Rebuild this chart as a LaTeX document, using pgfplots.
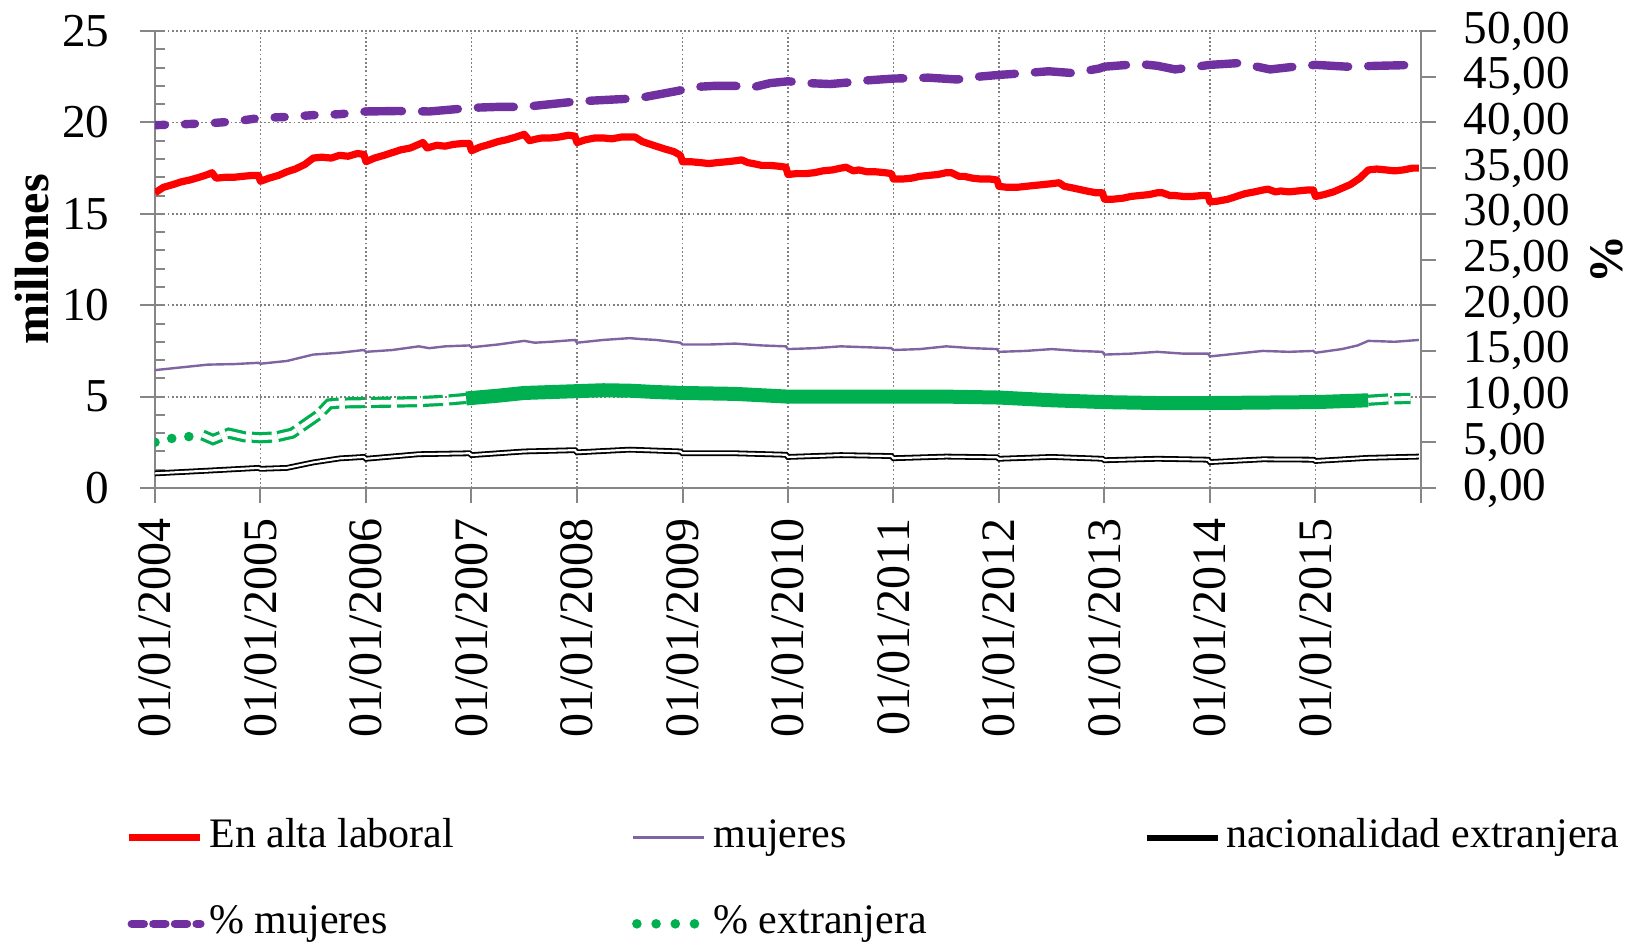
\documentclass[border=0pt]{standalone}
\usepackage{pgfplots}
\pgfplotsset{compat=1.18}
\usepackage{fontspec}
\setmainfont{Liberation Serif}
\definecolor{cRed}{RGB}{255,0,0}
\definecolor{cPurD}{RGB}{112,48,160}
\definecolor{cPurL}{RGB}{128,100,162}
\definecolor{cGreen}{RGB}{0,176,80}
\definecolor{axgray}{RGB}{134,134,134}
\definecolor{grgray}{RGB}{128,128,128}

\pgfplotstableread{
x y
2004.00 16.15
2004.08 16.45
2004.17 16.6
2004.25 16.75
2004.33 16.85
2004.42 17.0
2004.50 17.15
2004.54 17.25
2004.58 16.95
2004.67 17.0
2004.75 17.0
2004.83 17.05
2004.92 17.1
2004.98 17.1
2005.00 16.78
2005.08 16.95
2005.17 17.1
2005.25 17.3
2005.33 17.45
2005.42 17.7
2005.50 18.05
2005.58 18.1
2005.67 18.05
2005.75 18.2
2005.83 18.15
2005.92 18.3
2005.98 18.25
2006.00 17.85
2006.08 18.05
2006.17 18.2
2006.25 18.35
2006.33 18.5
2006.42 18.6
2006.50 18.8
2006.54 18.9
2006.58 18.6
2006.67 18.75
2006.75 18.7
2006.83 18.8
2006.92 18.85
2006.98 18.85
2007.00 18.45
2007.08 18.65
2007.17 18.8
2007.25 18.95
2007.33 19.05
2007.42 19.2
2007.50 19.35
2007.55 19.0
2007.62 19.1
2007.67 19.15
2007.75 19.15
2007.83 19.2
2007.92 19.3
2007.98 19.25
2008.00 18.9
2008.08 19.05
2008.17 19.15
2008.25 19.15
2008.33 19.1
2008.42 19.2
2008.50 19.2
2008.55 19.2
2008.62 18.95
2008.67 18.85
2008.75 18.7
2008.83 18.55
2008.92 18.4
2008.98 18.2
2009.00 17.85
2009.08 17.85
2009.17 17.8
2009.25 17.75
2009.33 17.8
2009.42 17.85
2009.50 17.9
2009.56 17.95
2009.62 17.8
2009.67 17.75
2009.75 17.65
2009.83 17.65
2009.92 17.6
2009.98 17.55
2010.00 17.15
2010.08 17.2
2010.17 17.2
2010.25 17.25
2010.33 17.35
2010.42 17.4
2010.50 17.5
2010.55 17.55
2010.62 17.35
2010.67 17.4
2010.75 17.3
2010.83 17.3
2010.92 17.25
2010.98 17.2
2011.00 16.9
2011.08 16.9
2011.17 16.95
2011.25 17.05
2011.33 17.1
2011.42 17.15
2011.50 17.25
2011.55 17.25
2011.62 17.05
2011.67 17.05
2011.75 16.95
2011.83 16.9
2011.92 16.9
2011.98 16.85
2012.00 16.5
2012.08 16.45
2012.17 16.45
2012.25 16.5
2012.33 16.55
2012.42 16.6
2012.50 16.65
2012.57 16.7
2012.62 16.5
2012.67 16.45
2012.75 16.35
2012.83 16.25
2012.92 16.15
2012.98 16.15
2013.00 15.8
2013.08 15.8
2013.17 15.85
2013.25 15.95
2013.33 16.0
2013.42 16.05
2013.50 16.15
2013.55 16.15
2013.62 16.0
2013.67 16.0
2013.75 15.95
2013.83 15.95
2013.92 16.0
2013.98 16.0
2014.00 15.65
2014.08 15.7
2014.17 15.8
2014.25 15.95
2014.33 16.1
2014.42 16.2
2014.50 16.3
2014.55 16.35
2014.62 16.2
2014.67 16.25
2014.75 16.2
2014.83 16.25
2014.92 16.3
2014.98 16.3
2015.00 15.95
2015.08 16.05
2015.17 16.2
2015.25 16.4
2015.33 16.6
2015.42 16.95
2015.50 17.4
2015.58 17.45
2015.67 17.4
2015.75 17.35
2015.83 17.4
2015.92 17.5
2015.98 17.5
}\alta

\pgfplotstableread{
x y
2004.00 6.45
2004.25 6.6
2004.50 6.75
2004.75 6.78
2004.98 6.85
2005.00 6.8
2005.25 6.95
2005.50 7.3
2005.75 7.4
2005.98 7.55
2006.00 7.45
2006.25 7.55
2006.50 7.75
2006.60 7.65
2006.75 7.75
2006.98 7.8
2007.00 7.7
2007.25 7.85
2007.50 8.05
2007.60 7.95
2007.75 8.0
2007.98 8.1
2008.00 7.95
2008.25 8.1
2008.50 8.2
2008.60 8.15
2008.75 8.1
2008.98 7.95
2009.00 7.85
2009.25 7.85
2009.50 7.9
2009.75 7.8
2009.98 7.75
2010.00 7.6
2010.25 7.65
2010.50 7.75
2010.75 7.7
2010.98 7.65
2011.00 7.55
2011.25 7.6
2011.50 7.75
2011.75 7.65
2011.98 7.6
2012.00 7.45
2012.25 7.5
2012.50 7.6
2012.75 7.5
2012.98 7.45
2013.00 7.3
2013.25 7.35
2013.50 7.45
2013.75 7.35
2013.98 7.35
2014.00 7.2
2014.25 7.35
2014.50 7.5
2014.75 7.45
2014.98 7.5
2015.00 7.4
2015.25 7.6
2015.40 7.8
2015.50 8.05
2015.75 8.0
2015.98 8.1
}\mujeres

\pgfplotstableread{
x y
2004.00 0.8
2004.50 0.95
2004.98 1.1
2005.00 1.05
2005.25 1.1
2005.50 1.4
2005.75 1.62
2005.98 1.7
2006.00 1.6
2006.50 1.85
2006.98 1.9
2007.00 1.8
2007.50 2.0
2007.98 2.07
2008.00 1.95
2008.50 2.1
2008.98 2.0
2009.00 1.9
2009.50 1.9
2009.98 1.82
2010.00 1.7
2010.50 1.8
2010.98 1.75
2011.00 1.63
2011.50 1.72
2011.98 1.68
2012.00 1.6
2012.50 1.7
2012.98 1.6
2013.00 1.52
2013.50 1.6
2013.98 1.55
2014.00 1.42
2014.50 1.57
2014.98 1.55
2015.00 1.48
2015.50 1.65
2015.98 1.72
}\extr

\pgfplotstableread{
x y
2004.00 39.7
2004.25 39.8
2004.50 39.9
2004.75 40.1
2005.00 40.5
2005.25 40.6
2005.50 40.8
2005.75 40.9
2006.00 41.2
}\pmujA

\pgfplotstableread{
x y
2006.00 41.2
2006.30 41.25
2006.60 41.2
2006.80 41.4
2007.00 41.6
2007.25 41.7
2007.50 41.7
2007.75 42.0
2008.00 42.3
2008.25 42.45
2008.50 42.6
2008.65 42.8
2008.93 43.4
2009.15 43.9
2009.30 44.0
2009.50 44.0
2009.65 43.8
2009.83 44.3
2010.00 44.5
2010.20 44.3
2010.40 44.2
2010.60 44.4
2010.75 44.6
2011.00 44.8
2011.33 44.9
2011.60 44.7
2011.80 45.0
2012.00 45.2
2012.25 45.4
2012.47 45.6
2012.70 45.4
2012.95 45.9
2013.00 46.1
2013.33 46.4
2013.50 46.2
2013.67 45.8
2014.00 46.3
2014.28 46.5
2014.57 45.8
2014.80 46.1
2015.00 46.3
2015.30 46.1
2015.60 46.2
2015.98 46.3
}\pmuj

\pgfplotstableread{
x y
2004.00 5.0
2004.14 5.4
2004.30 5.6
2004.45 5.8
}\pextA
\pgfplotstableread{
x y
2004.45 5.8
2004.55 5.3
2004.70 6.0
2004.85 5.6
2005.00 5.5
2005.15 5.6
2005.30 6.0
2005.45 7.2
2005.55 8.0
2005.65 9.2
2005.75 9.3
2006.00 9.35
2006.25 9.4
2006.50 9.45
2006.75 9.6
2006.95 9.8
}\pextB
\pgfplotstableread{
x y
2006.95 9.8
2007.25 10.1
2007.50 10.4
2007.75 10.5
2008.00 10.6
2008.25 10.7
2008.50 10.65
2008.75 10.5
2009.00 10.4
2009.50 10.3
2010.00 10.0
2010.50 10.0
2011.00 10.0
2011.50 10.0
2012.00 9.9
2012.50 9.6
2013.00 9.4
2013.50 9.3
2014.00 9.3
2014.50 9.35
2015.00 9.4
2015.50 9.6
}\pextC
\pgfplotstableread{
x y
2015.50 9.6
2015.70 9.75
2015.90 9.8
}\pextD

\pgfplotsset{
  every axis/.append style={
    scale only axis, width=316.5pt, height=114.25pt,
    xmin=2004, xmax=2016,
    axis line style={draw=axgray, line width=0.5pt},
    tick style={draw=axgray, line width=0.5pt},
    tick align=outside, major tick length=3.75pt,
    /pgf/number format/assume math mode=true,
    tick label style={font=\fontsize{11.8}{14}\selectfont, inner sep=0pt},
  },
}

\begin{document}
\begin{tikzpicture}
\begin{axis}[
  ymin=0, ymax=25,
  axis x line*=bottom, axis y line*=left,
  xtick={2004,2005,...,2016},
  xticklabels={01/01/2004,01/01/2005,01/01/2006,01/01/2007,01/01/2008,01/01/2009,01/01/2010,01/01/2011,01/01/2012,01/01/2013,01/01/2014,01/01/2015,{}},
  x tick label style={rotate=90, anchor=east, font=\fontsize{12}{14}\selectfont},
  xticklabel shift=3.75pt,
  ytick={0,5,...,25},
  yticklabel shift=7.5pt,
  extra y ticks={0,1,...,25},
  extra y tick labels={},
  extra tick style={grid=none, tick align=inside, major tick length=2.5pt},
  xmajorgrids, ymajorgrids,
  major grid style={draw=grgray, line width=0.45pt, dash pattern=on 0.45pt off 0.6pt},
  ylabel={\textbf{millones}},
  ylabel style={at={(axis description cs:0,0.5)}, anchor=center, yshift=30.75pt, font=\fontsize{12}{14}\selectfont},
]
\addplot[cRed, line width=1.8pt, line join=round] table[x=x,y=y] {\alta};
\addplot[cPurL, line width=0.6pt] table[x=x,y=y] {\mujeres};
\addplot[black, line width=0.45pt, double=white, double distance=0.55pt] table[x=x,y=y] {\extr};
\end{axis}

\begin{axis}[
  ymin=0, ymax=50,
  axis y line*=right, axis x line=none,
  ytick={0,5,...,50},
  yticklabel shift=6.75pt,
  yticklabel style={/pgf/number format/.cd, fixed, fixed zerofill, precision=2, use comma, assume math mode=true},
  ylabel={\textbf{\%}},
  ylabel style={at={(axis description cs:1,0.5)}, anchor=center, yshift=-46.5pt, font=\fontsize{12}{14}\selectfont},
  legend columns=3,
  legend style={at={(axis description cs:0,0)}, anchor=north west, xshift=-7.5pt, yshift=-81.75pt,
    draw=none, fill=none, inner sep=0pt, row sep=10.5pt,
    font=\fontsize{10.5}{12.6}\selectfont,
    nodes={inner sep=0pt, text height=8pt, text depth=3pt},
    /tikz/every odd column/.append style={column sep=1.2pt},
  },
  legend cell align=left,
  legend image code/.code={\draw[#1] (0pt,0pt) -- (17.75pt,0pt);},
]
\addlegendimage{cRed, line width=1.8pt}
\addlegendentry{\makebox[105.5pt][l]{En alta laboral}}
\addlegendimage{cPurL, line width=0.75pt}
\addlegendentry{\makebox[107.75pt][l]{mujeres}}
\addlegendimage{black, line width=1.5pt}
\addlegendentry{nacionalidad extranjera}
\addplot[cPurD, line width=2.1pt, line cap=round, dash pattern=on 9pt off 5pt,
  legend image code/.code={\draw[cPurD, line width=2.1pt, line cap=round, dash pattern=on 3pt off 2.4pt] (0.6pt,0pt) -- (17.75pt,0pt);}]
  table[x=x,y=y] {\pmuj};
\addlegendentry{\% mujeres}
\addplot[cGreen, line width=2.4pt, line cap=round, dash pattern=on 0pt off 4.3pt,
  legend image code/.code={\draw[cGreen, line width=2.4pt, line cap=round, dash pattern=on 0pt off 4.8pt] (1pt,0pt) -- (17.75pt,0pt);}]
  table[x=x,y=y] {\pextA};
\addlegendentry{\% extranjera}
\addplot[forget plot, cPurD, line width=2.1pt, line cap=round, dash pattern=on 2.5pt off 5pt] table[x=x,y=y] {\pmujA};
\addplot[forget plot, cGreen, line width=0.8pt, double=white, double distance=1.2pt, dash pattern=on 5pt off 1.5pt] table[x=x,y=y] {\pextB};
\addplot[forget plot, cGreen, line width=3.5pt] table[x=x,y=y] {\pextC};
\addplot[forget plot, cGreen, line width=0.8pt, double=white, double distance=1.2pt, dash pattern=on 5pt off 1.5pt] table[x=x,y=y] {\pextD};
\end{axis}
\pgfresetboundingbox
\path (-38.75pt,-114.5pt) rectangle (368.75pt,122pt);
\end{tikzpicture}
\end{document}
